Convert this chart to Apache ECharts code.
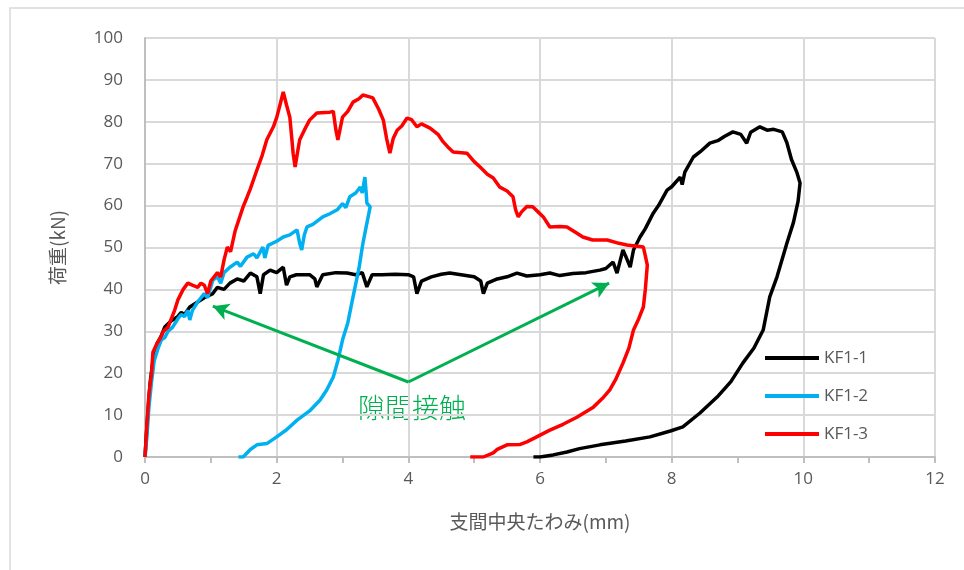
<!DOCTYPE html>
<html lang="ja">
<head>
    <meta charset="UTF-8">
    <title>荷重-たわみ</title>
    <script src="https://cdn.jsdelivr.net/npm/echarts@6/dist/echarts.min.js"></script>
</head>
<body style="margin:0">
<div id="main" style="width: 964px;height: 570px"></div>
<script>
    // 支間中央たわみ(mm), 荷重(kN) の組
    var kf11 = [[0,0],[0.02,5],[0.05,12],[0.08,18],[0.12,23],[0.18,27],[0.25,29],[0.3,31],[0.4,32.5],[0.49,33.4],[0.55,34.5],[0.6,34],[0.68,35.8],[0.8,37],[0.9,38],[1.03,39],[1.1,40.5],[1.2,40],[1.29,41.5],[1.4,42.5],[1.5,42],[1.6,43.9],[1.7,43],[1.75,39],[1.8,43.5],[1.9,44.6],[2.0,44],[2.1,45.3],[2.15,41],[2.2,43],[2.3,43.5],[2.5,43.5],[2.58,42.5],[2.61,40.6],[2.7,43.5],[2.9,44],[3.07,43.9],[3.2,43.5],[3.3,44],[3.37,40.6],[3.45,43.5],[3.6,43.5],[3.8,43.6],[4.0,43.5],[4.08,43],[4.13,39],[4.2,42],[4.35,43],[4.5,43.6],[4.63,43.9],[4.8,43.5],[5.0,43],[5.1,42],[5.14,39],[5.2,41.5],[5.35,42.5],[5.5,43],[5.65,43.9],[5.8,43.2],[6.0,43.5],[6.15,43.9],[6.3,43.3],[6.5,43.8],[6.7,44],[6.91,44.6],[7.0,45],[7.11,46.5],[7.17,43.9],[7.26,49.4],[7.3,48],[7.37,45.3],[7.42,49.4],[7.52,52.5],[7.6,54.5],[7.72,58.2],[7.8,60],[7.93,63.7],[8.0,64.5],[8.13,66.8],[8.16,65],[8.2,68],[8.33,71.6],[8.43,72.8],[8.58,74.9],[8.7,75.5],[8.8,76.5],[8.93,77.6],[9.05,77],[9.14,74.9],[9.2,77.5],[9.34,78.8],[9.45,78],[9.55,78.2],[9.68,77.6],[9.75,75],[9.82,71],[9.9,68],[9.95,65.4],[9.92,61],[9.85,56],[9.75,51],[9.6,43],[9.49,38.2],[9.39,30.3],[9.25,26],[9.08,22.4],[8.9,18],[8.69,14.3],[8.43,10.5],[8.17,7.2],[7.98,6.2],[7.67,4.8],[7.3,3.8],[6.91,2.9],[6.6,2],[6.41,1.2],[6.2,0.5],[6.0,0],[5.9,0]];
    var kf12 = [[0,0],[0.03,5],[0.06,12],[0.1,18],[0.14,23],[0.2,26],[0.25,28],[0.3,28.5],[0.35,30],[0.42,31],[0.5,33],[0.55,34],[0.6,33.5],[0.65,35],[0.68,32.7],[0.72,35],[0.8,37],[0.9,39],[0.95,38],[1.03,42.2],[1.1,43],[1.15,41.5],[1.2,44],[1.29,45.3],[1.4,46.5],[1.45,45.5],[1.55,47.7],[1.65,48.5],[1.7,47.5],[1.79,50.1],[1.82,47.5],[1.87,50.5],[2.0,51.5],[2.1,52.5],[2.2,53],[2.31,54.2],[2.35,51],[2.38,49.4],[2.42,53],[2.46,54.9],[2.55,55.5],[2.7,57.3],[2.8,58],[2.92,59],[3.0,60.5],[3.05,59.5],[3.11,62.1],[3.2,63],[3.27,64.4],[3.3,63],[3.34,66.8],[3.36,63],[3.37,60.6],[3.42,59.7],[3.36,55],[3.31,51],[3.25,45],[3.16,38.2],[3.08,32],[3.0,27.9],[2.93,23],[2.86,19.1],[2.76,16],[2.66,13.6],[2.5,11],[2.31,8.8],[2.15,6.5],[2.0,4.8],[1.85,3.2],[1.7,2.9],[1.6,1.8],[1.49,0],[1.42,0]];
    var kf13 = [[0,0],[0.03,8],[0.06,15],[0.1,20],[0.12,25],[0.18,27],[0.22,28],[0.28,30],[0.35,31],[0.4,33],[0.45,35],[0.5,37.5],[0.58,40],[0.65,41.5],[0.72,41],[0.8,40.5],[0.85,41.5],[0.9,41],[0.95,39],[1.0,42],[1.1,44],[1.15,43],[1.2,47],[1.25,50.1],[1.3,49],[1.37,54],[1.49,59.7],[1.55,62],[1.6,64],[1.7,68.5],[1.78,72],[1.85,75.7],[1.95,78.8],[2.0,81],[2.05,84],[2.1,87.1],[2.15,84],[2.2,81.1],[2.23,76],[2.25,72.5],[2.28,69.2],[2.32,73],[2.35,75.7],[2.42,78],[2.5,80.4],[2.61,82.1],[2.81,82.3],[2.86,82.5],[2.9,78],[2.93,75.7],[2.96,78],[3.0,81.1],[3.08,82.5],[3.16,84.7],[3.25,85.5],[3.31,86.4],[3.4,86],[3.46,85.7],[3.55,83],[3.62,80.4],[3.67,76],[3.72,72.5],[3.77,76],[3.83,78],[3.9,79],[3.98,80.9],[4.05,80.5],[4.13,78.8],[4.2,79.5],[4.33,78.5],[4.45,77],[4.53,75.2],[4.6,74],[4.68,72.8],[4.89,72.5],[5.0,70.5],[5.09,69.2],[5.2,67.5],[5.29,66.6],[5.39,64.4],[5.5,63.5],[5.59,62.1],[5.63,59],[5.67,57.3],[5.72,58.5],[5.8,59.8],[5.89,59.7],[5.97,58.5],[6.05,57.3],[6.15,54.9],[6.3,55],[6.41,54.9],[6.55,53.5],[6.65,52.5],[6.8,51.8],[7.02,51.8],[7.2,51],[7.32,50.6],[7.57,50.1],[7.6,48],[7.63,45.8],[7.6,40],[7.57,35.8],[7.5,33],[7.42,30.3],[7.35,26],[7.26,22.4],[7.15,18.5],[7.06,16],[6.95,14],[6.81,11.9],[6.56,9.5],[6.35,7.8],[6.15,6.4],[5.95,4.8],[5.8,3.6],[5.7,3.0],[5.5,2.9],[5.35,1.8],[5.29,1],[5.14,0],[4.94,0]];

    var seriesNames = ['KF1-1', 'KF1-2', 'KF1-3'];
    var seriesColors = ['#000000', '#00B0F0', '#FF0000'];
    // 注記の矢印 (頂点 → 先端)
    var arrowApex = [4.0, 17.9];
    var arrowTips = [[1.03, 36], [7.05, 41.5]];
    var noteText = '隙間接触';

    var myChart = echarts.init(document.getElementById('main'));
    var gray = '#595959';
    var font = 'Open Sans';

    var arrowLines = arrowTips.map(function (t) {
        return [{coord: arrowApex}, {coord: t}];
    });

    option = {
        animation: false,
        textStyle: {fontFamily: font},
        grid: {left: 145, top: 38, right: 29, bottom: 113},
        legend: {
            data: seriesNames,
            orient: 'vertical',
            left: 760,
            top: 344,
            icon: 'rect',
            itemWidth: 54,
            itemHeight: 4,
            itemGap: 20,
            textStyle: {color: gray, fontSize: 17, fontFamily: font, lineHeight: 18}
        },
        xAxis: {
            type: 'value',
            min: 0,
            max: 12,
            interval: 2,
            name: '支間中央たわみ(mm)',
            nameLocation: 'middle',
            nameGap: 55,
            nameTextStyle: {color: gray, fontSize: 19, fontFamily: 'Noto Sans CJK JP'},
            axisLine: {lineStyle: {color: '#bfbfbf', width: 2}},
            axisTick: {show: true, length: 6, lineStyle: {color: '#bfbfbf', width: 2}},
            minorTick: {show: true, splitNumber: 2, length: 6, lineStyle: {color: '#bfbfbf', width: 2}},
            axisLabel: {color: gray, fontSize: 17, margin: 14},
            splitLine: {show: true, lineStyle: {color: '#d9d9d9', width: 2}}
        },
        yAxis: {
            type: 'value',
            min: 0,
            max: 100,
            interval: 10,
            name: '荷重(kN)',
            nameLocation: 'middle',
            nameGap: 78,
            nameTextStyle: {color: gray, fontSize: 19, fontFamily: 'Noto Sans CJK JP'},
            axisLine: {show: true, lineStyle: {color: '#bfbfbf', width: 2}},
            axisTick: {show: false},
            axisLabel: {color: gray, fontSize: 17, margin: 22},
            splitLine: {show: true, lineStyle: {color: '#d9d9d9', width: 2}}
        },
        graphic: [
            {
                type: 'rect',
                shape: {x: 10, y: 8, width: 1000, height: 600},
                style: {fill: 'none', stroke: '#d9d9d9', lineWidth: 1.5},
                silent: true
            },
            {
                type: 'text',
                left: 358,
                top: 394,
                style: {text: noteText, fill: '#00B050', fontSize: 27, fontFamily: 'Noto Sans CJK JP', fontWeight: 300},
                silent: true
            }
        ],
        series: [
            {
                name: seriesNames[0],
                type: 'line',
                data: kf11,
                showSymbol: false,
                lineStyle: {color: seriesColors[0], width: 3.5},
                itemStyle: {color: seriesColors[0]},
                markLine: {
                    silent: true,
                    symbol: ['none', 'arrow'],
                    symbolSize: [13, 16],
                    label: {show: false},
                    lineStyle: {color: '#00B050', width: 3, type: 'solid'},
                    data: arrowLines
                }
            },
            {
                name: seriesNames[1],
                type: 'line',
                data: kf12,
                showSymbol: false,
                lineStyle: {color: seriesColors[1], width: 3.5},
                itemStyle: {color: seriesColors[1]}
            },
            {
                name: seriesNames[2],
                type: 'line',
                data: kf13,
                showSymbol: false,
                lineStyle: {color: seriesColors[2], width: 3.5},
                itemStyle: {color: seriesColors[2]}
            }
        ]
    };

    myChart.setOption(option);
</script>
</body>
</html>
